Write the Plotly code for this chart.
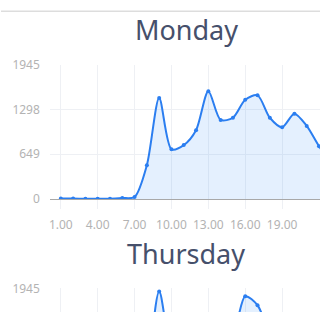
import plotly.graph_objects as go

hours = list(range(1, 25))
monday = [8, 6, 5, 4, 4, 14, 30, 490, 1462, 720, 780, 995, 1560, 1144, 1176, 1436, 1500, 1176, 1039, 1235, 1058, 764, 520, 300]
thursday = [6, 5, 4, 4, 5, 12, 60, 700, 1900, 1100, 1000, 1150, 1500, 1250, 1300, 1830, 1700, 1300, 1100, 1250, 1050, 780, 520, 300]
y_ticks = [0, 649, 1298, 1945]
x_ticks = [1, 4, 7, 10, 13, 16, 19]
x_labels = ["1.00", "4.00", "7.00", "10.00", "13.00", "16.00", "19.00"]
titles = ["Monday", "Thursday"]

LINE = "#2b7ef0"
FILL = "rgba(43,140,245,0.13)"
GRID = "#eef0f4"
LBL = "#b3b3b3"
FONT = "Noto Sans"

W = H = 320
px_per_h = 37 / 3
x_left = 49
x0 = 1 - (60 - x_left) / px_per_h
x1 = 1 + (W - 60) / px_per_h

def py(p):
    return (H - p) / H

fig = go.Figure()
for i, vals in enumerate([monday, thursday]):
    sfx = "" if i == 0 else "2"
    fig.add_trace(go.Scatter(
        x=hours, y=vals, mode="lines+markers",
        line=dict(color=LINE, width=2, shape="spline", smoothing=0.8),
        marker=dict(size=4, color=LINE),
        fill="tozeroy", fillcolor=FILL,
        xaxis="x" + sfx, yaxis="y" + sfx, showlegend=False, cliponaxis=True,
    ))

fig.update_layout(
    width=W, height=H, margin=dict(l=0, r=0, t=0, b=0),
    paper_bgcolor="white", plot_bgcolor="white",
    font=dict(family=FONT),
    xaxis=dict(domain=[x_left / W, 1], range=[x0, x1], anchor="y",
               tickvals=x_ticks, ticktext=x_labels, showgrid=True, gridcolor=GRID,
               ticks="outside", ticklen=9, tickcolor=GRID,
               showline=True, linecolor="#a8a8a8", linewidth=1,
               tickfont=dict(size=12, color=LBL), ticklabelstandoff=6, zeroline=False),
    yaxis=dict(domain=[py(200.7), py(58.7)], range=[0, 1945], anchor="x",
               tickvals=y_ticks, ticktext=[str(v) for v in y_ticks],
               showgrid=True, gridcolor=GRID, zeroline=False,
               tickfont=dict(size=12, color=LBL), ticklabelstandoff=9),
    xaxis2=dict(domain=[x_left / W, 1], range=[x0, x1], anchor="y2",
                tickvals=x_ticks, showticklabels=False, showgrid=True, gridcolor=GRID,
                zeroline=False),
    yaxis2=dict(domain=[0, py(295)], range=[1945 - 25 * 649 / 47.33, 1945], anchor="x2",
                tickvals=[1945], ticktext=["1945"], showgrid=True, gridcolor=GRID,
                zeroline=False, tickfont=dict(size=12, color=LBL), ticklabelstandoff=9),
)

for name, ypx in zip(titles, [22, 258]):
    fig.add_annotation(text=name, x=185.7 / W, y=py(ypx), xref="paper", yref="paper",
                       xanchor="center", yanchor="middle", showarrow=False,
                       font=dict(size=27, color="#46506b", family=FONT))

fig.add_shape(type="line", xref="paper", yref="paper", x0=0, x1=1,
              y0=py(2.3), y1=py(2.3), line=dict(color="#dddddd", width=1.5))

fig.write_html("out.html")
